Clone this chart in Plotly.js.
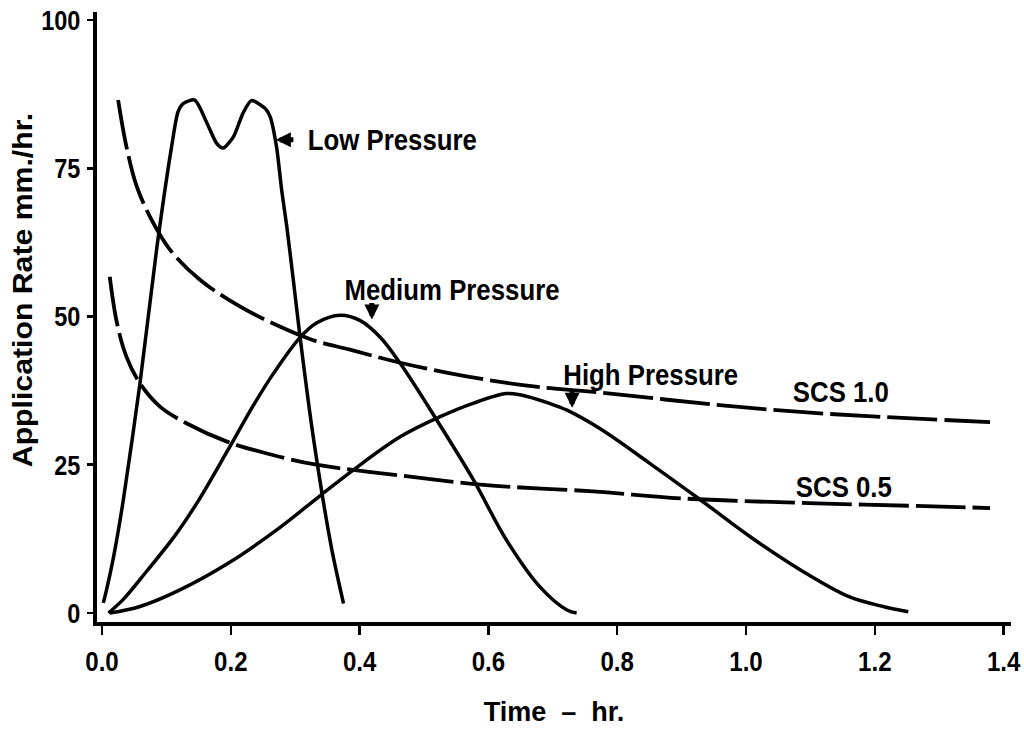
<!DOCTYPE html>
<html>
<head>
<meta charset="utf-8">
<script src="https://cdn.plot.ly/plotly-3.0.1.min.js"></script>
<style>
  html, body { margin: 0; padding: 0; background: #fff; }
  #chart { width: 1024px; height: 730px; }
</style>
</head>
<body>
<div id="chart"></div>
<script>
// Time (hr) and application rate (mm/hr)
const lowX  = [0.002, 0.007, 0.018, 0.033, 0.059, 0.085, 0.108, 0.118, 0.126, 0.144, 0.163, 0.178, 0.188, 0.204, 0.219, 0.232, 0.253, 0.261, 0.271, 0.279, 0.287, 0.297, 0.307, 0.328, 0.357, 0.375];
const lowY  = [1.7, 3.9, 9.5, 19.0, 38.8, 61.5, 78.6, 84.5, 85.9, 86.5, 82.6, 79.2, 78.4, 80.3, 84.3, 86.4, 85.1, 83.7, 78.6, 71.3, 65.1, 56.2, 47.0, 29.7, 10.6, 1.6];

const medX  = [0.010, 0.033, 0.069, 0.113, 0.150, 0.194, 0.235, 0.265, 0.307, 0.333, 0.370, 0.401, 0.432, 0.463, 0.520, 0.577, 0.628, 0.680, 0.722, 0.737];
const medY  = [0.0, 2.3, 7.0, 13.0, 19.0, 27.2, 35.0, 40.2, 46.4, 48.9, 50.2, 49.3, 46.5, 42.1, 32.5, 22.4, 12.3, 4.4, 0.5, 0.0];

const highX = [0.012, 0.059, 0.121, 0.199, 0.276, 0.339, 0.390, 0.463, 0.525, 0.577, 0.628, 0.649, 0.696, 0.722, 0.773, 0.851, 0.929, 1.006, 1.084, 1.161, 1.213, 1.252];
const highY = [0.0, 1.1, 3.9, 8.6, 14.4, 19.8, 24.1, 29.7, 33.1, 35.4, 37.0, 36.8, 35.3, 34.2, 31.1, 25.2, 19.1, 12.9, 7.3, 2.7, 1.1, 0.2];

const scs10X = [0.025, 0.038, 0.054, 0.077, 0.106, 0.152, 0.214, 0.276, 0.328, 0.385, 0.463, 0.566, 0.670, 0.763, 0.954, 1.110, 1.317, 1.379];
const scs10Y = [86.5, 78.6, 71.9, 66.3, 61.2, 56.2, 51.7, 48.3, 46.0, 44.4, 42.2, 39.9, 38.2, 37.3, 35.1, 33.7, 32.5, 32.2];

const scs05X = [0.012, 0.023, 0.038, 0.059, 0.090, 0.131, 0.194, 0.256, 0.333, 0.463, 0.592, 0.763, 0.903, 1.110, 1.317, 1.379];
const scs05Y = [56.7, 49.0, 43.2, 38.7, 34.8, 32.0, 28.9, 26.9, 25.0, 23.2, 21.6, 20.5, 19.3, 18.5, 17.9, 17.7];

const xTicks = [0.0, 0.2, 0.4, 0.6, 0.8, 1.0, 1.2, 1.4];
const xTickText = ['0.0', '0.2', '0.4', '0.6', '0.8', '1.0', '1.2', '1.4'];
const yTicks = [0, 25, 50, 75, 100];
const yTickText = ['0', '25', '50', '75', '100'];

const FONT = "'Liberation Sans', Arial, Helvetica, sans-serif";

const solid = { color: '#000', width: 3.5, shape: 'spline', smoothing: 1 };
const dashed = { color: '#000', width: 3.8, shape: 'spline', smoothing: 1, dash: '50px,7px' };

const traces = [
  { x: lowX, y: lowY, name: 'Low Pressure', mode: 'lines', line: Object.assign({}, solid, { smoothing: 0.7 }) },
  { x: medX, y: medY, name: 'Medium Pressure', mode: 'lines', line: solid },
  { x: highX, y: highY, name: 'High Pressure', mode: 'lines', line: solid },
  { x: scs10X, y: scs10Y, name: 'SCS 1.0', mode: 'lines', line: dashed },
  { x: scs05X, y: scs05Y, name: 'SCS 0.5', mode: 'lines', line: dashed }
];

const labelFont = { family: FONT, size: 30, color: '#000', weight: 'bold' };
const arrowStyle = { text: '', font: { size: 1 }, borderpad: 0, showarrow: true, arrowhead: 2, arrowsize: 0.6, arrowwidth: 5, arrowcolor: '#000' };

const annotations = [
  Object.assign({ x: 0.270, y: 79.8, ax: 18, ay: 0 }, arrowStyle),
  { x: 0.451, y: 79.8, xanchor: 'center', yanchor: 'middle', text: 'Low Pressure', showarrow: false, font: labelFont },
  Object.assign({ x: 0.419, y: 49.5, ax: 0, ay: -17 }, arrowStyle),
  { x: 0.544, y: 54.6, xanchor: 'center', yanchor: 'middle', text: 'Medium Pressure', showarrow: false, font: labelFont },
  Object.assign({ x: 0.730, y: 34.6, ax: 0, ay: -17 }, arrowStyle),
  { x: 0.852, y: 40.2, xanchor: 'center', yanchor: 'middle', text: 'High Pressure', showarrow: false, font: labelFont },
  { x: 1.148, y: 37.3, xanchor: 'center', yanchor: 'middle', text: 'SCS 1.0', showarrow: false, font: labelFont },
  { x: 1.152, y: 21.4, xanchor: 'center', yanchor: 'middle', text: 'SCS 0.5', showarrow: false, font: labelFont }
];

const layout = {
  width: 1024, height: 730,
  margin: { l: 97, r: 13, t: 12, b: 108 },
  paper_bgcolor: '#fff', plot_bgcolor: '#fff',
  showlegend: false,
  font: { family: FONT, color: '#000' },
  xaxis: {
    range: [-0.0078, 1.4115],
    tickvals: xTicks, ticktext: xTickText,
    showgrid: false, zeroline: false,
    showline: true, linecolor: '#000', linewidth: 4,
    ticks: 'outside', ticklen: 9, tickwidth: 2.5, tickcolor: '#000',
    ticklabelstandoff: 2,
    tickfont: { family: FONT, size: 28, weight: 'bold', color: '#000' },
    title: { text: 'Time  –  hr.', font: { family: FONT, size: 27, weight: 'bold', color: '#000' }, standoff: 28 }
  },
  yaxis: {
    range: [-1.52, 101.35],
    tickvals: yTicks, ticktext: yTickText,
    showgrid: false, zeroline: false,
    showline: true, linecolor: '#000', linewidth: 4,
    ticks: 'outside', ticklen: 6, tickwidth: 2.5, tickcolor: '#000',
    ticklabelstandoff: 1,
    tickfont: { family: FONT, size: 28, weight: 'bold', color: '#000' },
    title: { text: 'Application Rate mm./hr.', font: { family: FONT, size: 28, weight: 'bold', color: '#000' }, standoff: 10 }
  },
  annotations: annotations
};

// The reference lettering is slightly condensed horizontally; stretch text glyphs (still real text)
function stretchText(selector, sx, sy, dx, dy) {
  document.querySelectorAll(selector).forEach(function (t) {
    if (!t.textContent) return;
    const b = t.getBBox();
    const anchor = t.getAttribute('text-anchor') || getComputedStyle(t).textAnchor || 'start';
    const cx = anchor === 'end' ? b.x + b.width : (anchor === 'middle' ? b.x + b.width / 2 : b.x);
    const cy = b.y + b.height / 2;
    const tr = t.getAttribute('transform') || '';
    t.setAttribute('transform', tr + ' translate(' + (cx + dx) + ',' + (cy + dy) + ') scale(' + sx + ',' + sy + ') translate(' + (-cx) + ',' + (-cy) + ')');
  });
}

Plotly.newPlot('chart', traces, layout, { staticPlot: true, displayModeBar: false }).then(function () {
  stretchText('.xtick text', 0.86, 1, 0, 0);
  stretchText('.ytick text', 0.84, 1, 0, 0);
  stretchText('.annotation-text', 0.86, 1, 0, 0);
  stretchText('.g-ytitle text', 1.08, 1, 27, 7);
});
</script>
</body>
</html>
